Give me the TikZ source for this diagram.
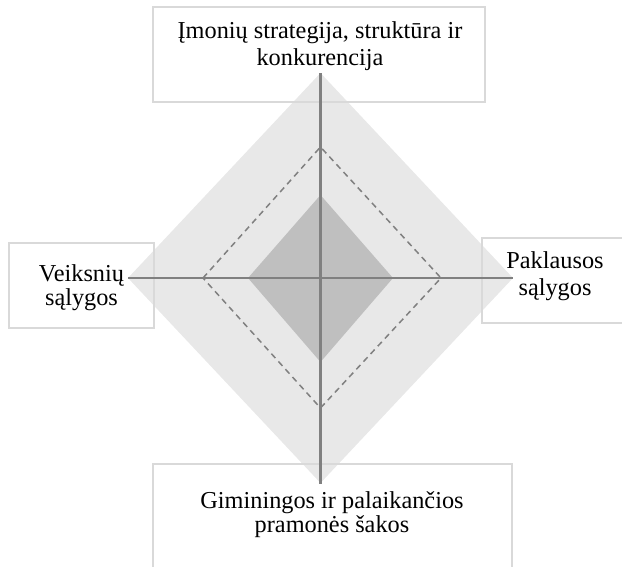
\documentclass[tikz,border=0pt]{standalone}
\usepackage{fontspec}
\setmainfont{Liberation Serif}
\begin{document}
\begin{tikzpicture}[x=1pt,y=-1pt,
  lbl/.style={anchor=base,inner sep=0pt,font=\fontsize{24.3}{29}\selectfont},
  boxline/.style={draw=black!15,line width=1.6pt},
  axisline/.style={draw=black!50,line width=2.2pt},
  dashline/.style={draw=black!50,line width=1.5pt,dash pattern=on 6pt off 4.5pt}]
\useasboundingbox (0,0) rectangle (622,566);
\clip (0,0) rectangle (622,566);
% diamonds
\coordinate (c) at (320.5,278);
\fill[black!9] (128,278) -- (320.5,73) -- (513,278) -- (320.5,483) -- cycle;
\draw[dashline] (203,278) -- (320.5,147) -- (441,278) -- (320.5,408) -- cycle;
\fill[black!25] (248,278) -- (320.5,195) -- (393,278) -- (320.5,362) -- cycle;
% boxes
\draw[boxline] (153,7) rectangle (485,102);
\draw[boxline] (9,243) rectangle (154,328);
\draw[boxline] (482,238) rectangle (630,323);
\draw[boxline] (153,464) rectangle (512,575);
% axes
\coordinate (top) at (320.5,73);
\coordinate (bot) at (320.5,484);
\coordinate (lft) at (128,278);
\coordinate (rgt) at (513,278);
\draw[axisline] (top) -- (bot);
\draw[axisline] (lft) -- (rgt);
% texts
\node[lbl] (t1) at (320,38) {Įmonių strategija, struktūra ir};
\node[lbl] (t2) at (320,65) {konkurencija};
\node[lbl] (l1) at (81.5,281.5) {Veiksnių};
\node[lbl] (l2) at (81.5,305) {sąlygos};
\node[lbl] (r1) at (555,268) {Paklausos};
\node[lbl] (r2) at (555,295) {sąlygos};
\node[lbl] (b1) at (332,508) {Giminingos ir palaikančios};
\node[lbl] (b2) at (332,532) {pramonės šakos};
\end{tikzpicture}
\end{document}
